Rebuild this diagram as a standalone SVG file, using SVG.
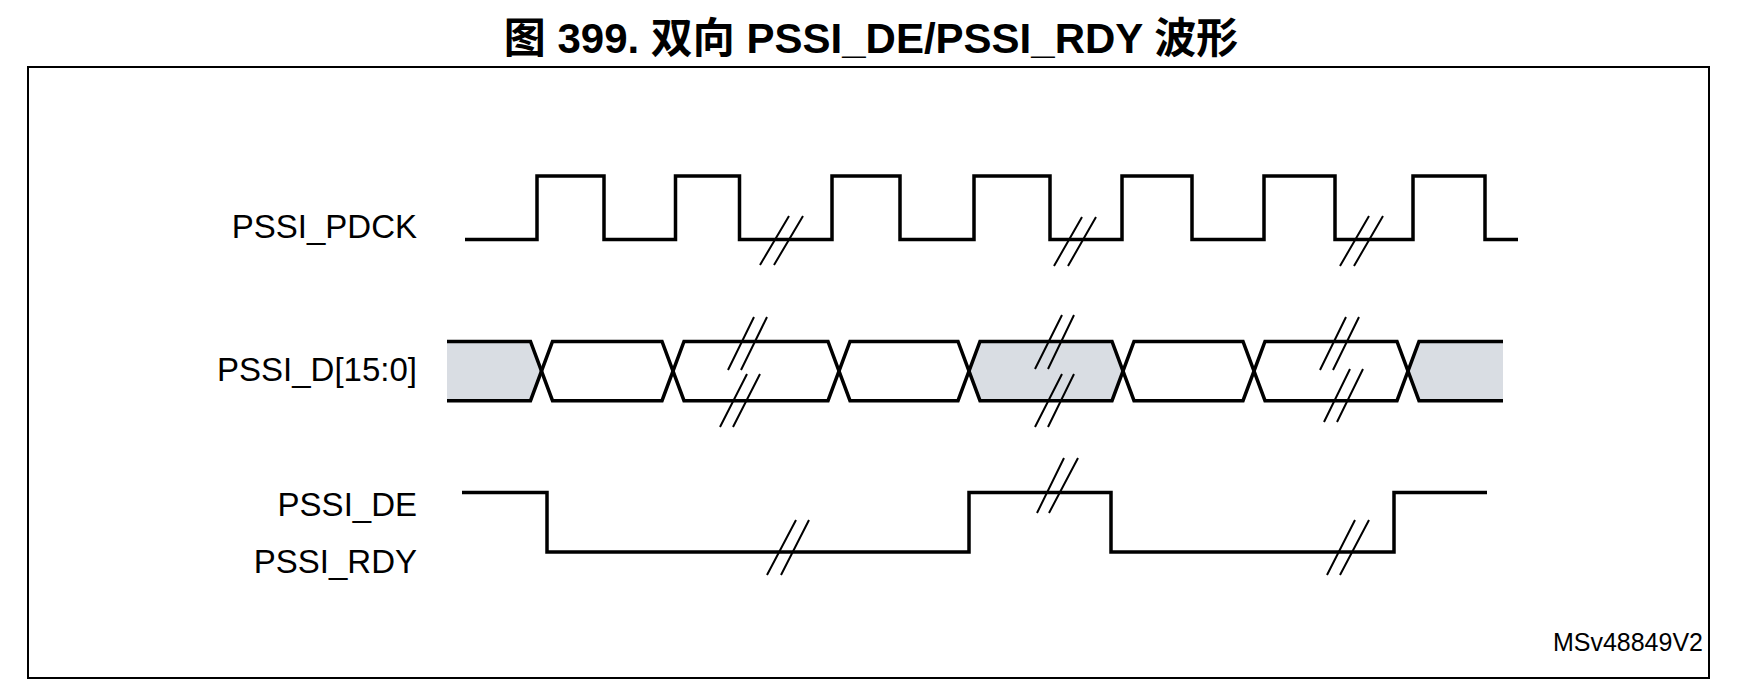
<svg xmlns="http://www.w3.org/2000/svg" width="1742" height="698" viewBox="0 0 1742 698">
<style>
.t{font-family:"Liberation Sans",Arial,sans-serif;font-size:33px;fill:#000;text-anchor:end}
.w{fill:none;stroke:#000;stroke-width:3.5;stroke-linejoin:miter}
.b{stroke:#000;stroke-width:2;fill:none}
.sh{fill:#d9dde3;stroke:none}
</style>
<rect width="1742" height="698" fill="#fff"/>
<text x="871" y="53" text-anchor="middle" style="font-family:'Liberation Sans','Noto Sans CJK SC',sans-serif;font-size:42px;font-weight:bold">图 399. 双向 PSSI_DE/PSSI_RDY 波形</text>
<rect x="28" y="67" width="1681" height="611" fill="none" stroke="#000" stroke-width="2"/>
<g id="labels">
<text class="t" x="417" y="238">PSSI_PDCK</text>
<text class="t" x="417" y="381">PSSI_D[15:0]</text>
<text class="t" x="417" y="516">PSSI_DE</text>
<text class="t" x="417" y="573">PSSI_RDY</text>
<text x="1703" y="651" style="font-family:'Liberation Sans',Arial,sans-serif;font-size:25px;text-anchor:end">MSv48849V2</text>
</g>
<g id="pdck">
<path class="w" d="M465,239.5H537V176H604V239.5H675.5V176H739.5V239.5H832V176H900V239.5H974V176H1050V239.5H1122V176H1192V239.5H1264V176H1335V239.5H1413V176H1485V239.5H1518"/>
<path class="b" d="M760,265L789,216M774,265L803,216M1054,266L1082,217M1068,266L1096,217M1340,266L1369,216M1354,266L1383,216"/>
</g>
<g id="data">
<path class="sh" d="M447,341.5H530.5L541.5,371L530.5,400.7H447Z"/>
<path class="sh" d="M980,341.5H1112L1123,371L1112,400.7H980L969,371Z"/>
<path class="sh" d="M1419,341.5H1503V400.7H1419L1408,371Z"/>
<path class="w" d="M447,341.5H530.5L552.5,400.7H662L684,341.5H828L850,400.7H958L980,341.5H1112L1134,400.7H1243L1265,341.5H1397L1419,400.7H1503"/>
<path class="w" d="M447,400.7H530.5L552.5,341.5H662L684,400.7H828L850,341.5H958L980,400.7H1112L1134,341.5H1243L1265,400.7H1397L1419,341.5H1503"/>
<path class="b" d="M728,370L754,317M741,370L767,317M720,427L747,374M733,427L760,374M1035,369L1062,315M1048,369L1074,315M1035,427L1062,374M1048,427L1074,374M1320,370L1346,317M1333,370L1359,317M1324,422L1350,369M1337,422L1363,369"/>
</g>
<g id="de">
<path class="w" d="M462,492.5H547V552H969V492.5H1111V552H1394V492.5H1487"/>
<path class="b" d="M767,575L796,520M781,575L809,520M1037,513L1064,458M1049,513L1078,458M1327,575L1355,520M1340,575L1369,520"/>
</g>
</svg>
